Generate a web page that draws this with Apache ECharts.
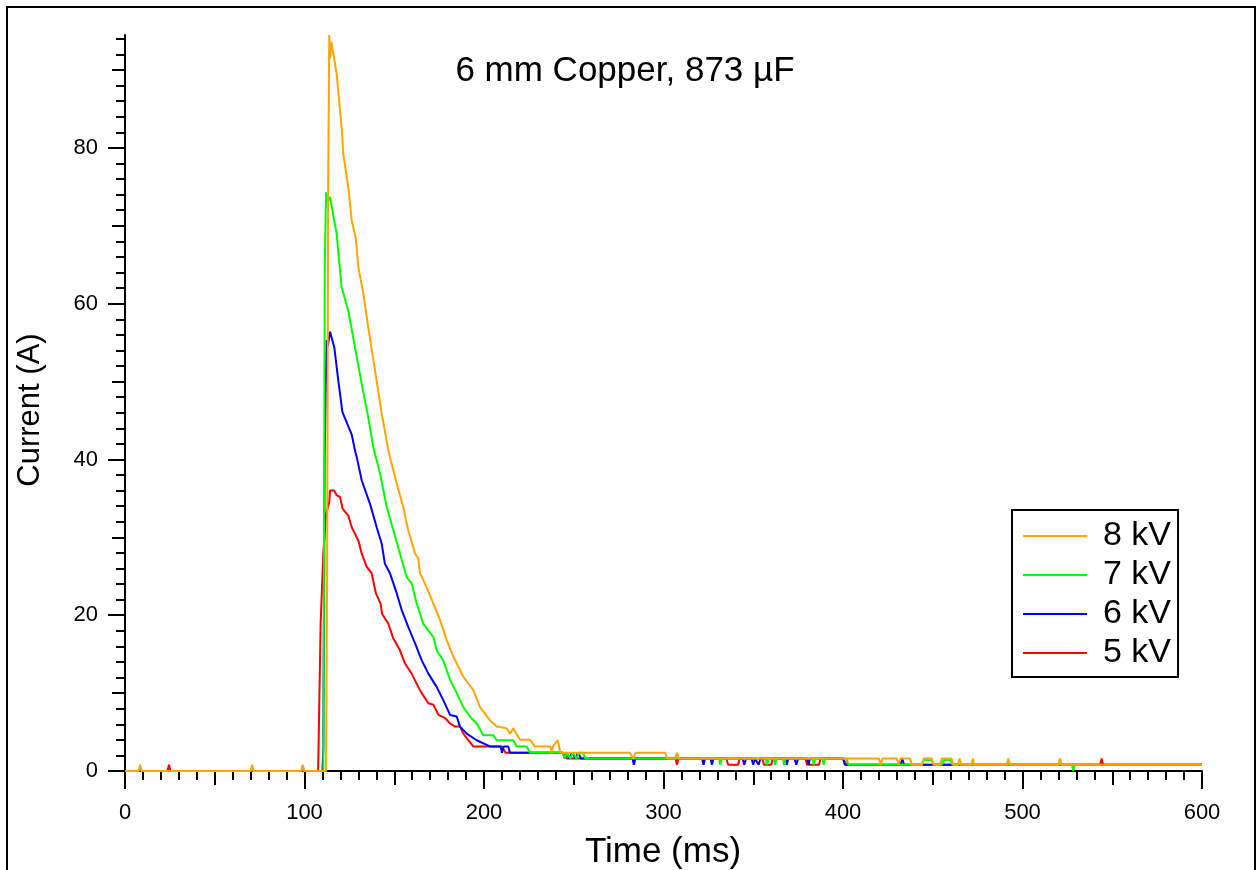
<!DOCTYPE html>
<html>
<head>
<meta charset="utf-8">
<title>6 mm Copper, 873 µF</title>
<script src="https://cdn.jsdelivr.net/npm/echarts@6.0.0/dist/echarts.min.js"></script>
<style>
    html, body { margin: 0; padding: 0; background: #fff; }
    #chart { width: 1257px; height: 870px; }
</style>
</head>
<body>
<div id="chart"></div>
<script>
    // series: [time (ms), current (A)]
    var kv8 = [[0,0],[7.5,0],[8.4,0.8],[9.3,0],[70,0],[70.8,0.8],[71.6,0],[98.2,0],[99,0.8],[99.8,0],
        [112,0],[112.6,25],[113.2,76],[113.8,94.5],[114.3,91.5],[115,93.6],[117.9,89.5],[120.7,82.6],[121.6,79.2],
        [124.4,75],[126.3,70.7],[128.5,68.5],[130,64.7],[132.8,61.3],[135.5,57],[139.3,51.4],[143,45.9],
        [146.7,41.2],[147.6,40.3],[151.4,36.9],[155,33.9],[157.8,30.9],[161.6,27.9],[163.4,27.3],[164.3,25.4],
        [168,23.6],[171.8,21.5],[175.5,19.4],[179.2,16.8],[182.9,14.7],[186.6,13],[188.5,12.1],[194,10.4],
        [197.8,8.2],[203.3,6.5],[207.1,5.7],[212.6,5.5],[214.5,4.8],[216.3,5.5],[218,4.8],[220,4],[225.6,4],
        [228.4,3.15],[237,3.15],[237.7,2.35],[238.5,3.15],[241.1,3.95],[242.5,2.35],[281.3,2.35],[283,1.6],
        [284.5,2.35],[301,2.35],[302,1.6],[306.5,1.6],[307.5,2.35],[308.5,1.6],[420,1.6],[421,0.8],[422,1.6],
        [430,1.6],[431,0.8],[432,1.6],[437.4,1.6],[438.3,0.8],[443.9,0.8],[445,1.6],[449.5,1.6],[450.5,0.8],
        [454,0.8],[455,1.6],[460.5,1.6],[461.5,0.8],[464,0.8],[465,1.6],[466,0.8],[471.5,0.8],[472.3,1.6],
        [473.2,0.8],[491.2,0.8],[492.1,1.6],[493,0.8],[520,0.8],[520.9,1.6],[521.8,0.8],[600,0.8]];

    var kv7 = [[0,0],[7.5,0],[8.4,0.6],[9.3,0],[70,0],[70.8,0.6],[71.6,0],[98.2,0],[99,0.6],[99.8,0],
        [110.5,0],[111.3,65],[112,74.3],[113,73],[114.2,73.7],[117.9,69],[120.7,62.1],[124.4,59.1],[128.1,54.4],
        [131.9,49.7],[135.5,45.4],[138.3,41.6],[140.2,39.9],[142.1,38.2],[145.8,33.9],[149.5,30.9],[153.2,27.9],
        [156.9,24.9],[159.7,24.1],[162.5,21.5],[166.2,18.9],[171.8,17.2],[173.6,15.5],[177.3,14.2],[181.1,11.7],
        [184.8,10],[188.5,8.2],[192.2,7],[195.9,6.1],[199.6,4.6],[205.2,4.6],[207.1,3.95],[216.3,3.95],
        [218.2,3.15],[223.8,3.15],[225.6,2.35],[244,2.35],[245,1.6],[246,2.35],[248,1.6],[249.5,2.35],
        [251.5,1.6],[253,2.35],[255,2.35],[256.5,1.6],[331,1.6],[331.6,0.8],[332.5,1.6],[357,1.6],[357.6,0.8],
        [358.5,1.6],[361.5,1.6],[362.2,0.8],[363,1.6],[366.5,1.6],[367.2,0.8],[368,1.6],[383,1.6],[383.7,0.8],
        [384.5,1.6],[388.5,1.6],[389.2,0.8],[390,1.6],[402,1.6],[403,0.8],[444,0.8],[445,1.4],[449.5,1.4],
        [450.5,0.8],[455,0.8],[456,1.4],[460,1.4],[461,0.8],[527.5,0.8],[528.3,0],[529.1,0.8],[600,0.8]];

    var kv6 = [[0,0],[110,0],[110.5,3],[111.2,40],[112.3,55.3],[113,54.6],[114.2,56.4],[116.6,54.4],
        [118.8,50.2],[121.1,46.1],[126.3,43.2],[128.1,41.2],[129.1,40.3],[131.9,37.3],[136.5,34.3],[140.2,31.3],
        [143,29.2],[144.8,26.6],[147.6,25.4],[151.4,22.8],[154.1,20.7],[157.8,18.5],[161.6,16.4],[165.3,14.2],
        [169,12.5],[173.6,10.8],[177.3,9.1],[181.1,7.2],[184.8,7],[186.6,5.7],[190.4,4.8],[195.9,3.95],
        [203.3,3.15],[209.3,3.15],[210,2.35],[211,3.15],[213.5,3.15],[214.5,2.35],[244,2.35],[245,1.6],
        [246,2.35],[247.5,1.6],[249,2.35],[251,1.6],[252.5,2.35],[254,1.6],[282.7,1.6],[283.5,0.8],[284.3,1.6],
        [321.5,1.6],[322.3,0.8],[323.1,1.6],[326.2,1.6],[327,0.8],[327.8,1.6],[344,1.6],[345,0.8],[346,1.6],
        [349,1.6],[350,0.8],[351,1.6],[352,1.6],[353,0.8],[354,1.6],[368,1.6],[368.7,0.8],[369.5,1.6],
        [373,1.6],[374,0.8],[375,1.6],[380,1.6],[380.8,0.8],[381.6,1.6],[400,1.6],[401,0.8],[432,0.8],
        [433,1.6],[434,0.8],[600,0.8]];

    var kv5 = [[0,0],[23.7,0],[24.5,0.8],[25.3,0],[107.6,0],[109,19],[110.5,28],[112,33],[113.8,34.5],
        [114.2,36],[116.6,36],[117.9,35.4],[119.8,35.2],[121.2,33.7],[124.4,32.8],[126.3,31.3],[130,29.6],
        [131.9,27.9],[134.7,26.2],[137.4,25.4],[139.8,22.8],[142.4,21.5],[143.2,20.2],[146.7,18.9],[149.5,17],
        [153.2,15.5],[156,13.8],[159.7,12.5],[163.4,10.8],[165.3,10],[169,8.7],[171.8,8.5],[174.6,7.2],
        [178.3,6.8],[181.1,6.1],[183.8,5.7],[186.6,5.7],[188.5,4.8],[191.3,3.95],[194,3.15],[210,3.15],
        [212,2.35],[244,2.35],[246,1.6],[306.7,1.6],[307.5,0.8],[308.3,1.6],[335,1.6],[336,0.8],[341.6,0.8],
        [342.5,1.6],[355,1.6],[356,0.8],[360,0.8],[361,1.6],[379,1.6],[380,0.8],[386.6,0.8],[387.5,1.6],
        [400,1.6],[402,0.8],[543.3,0.8],[544.1,1.6],[544.9,0.8],[600,0.8]];

    var legendNames = ['8 kV', '7 kV', '6 kV', '5 kV'];

    // tick positions
    var xLabelTicks = [0, 100, 200, 300, 400, 500, 600];
    var xMidTicks = [50, 150, 250, 350, 450, 550];
    var yLabelTicks = [0, 20, 40, 60, 80];
    var yMidTicks = [10, 30, 50, 70, 90];
    var xMinorTicks = [];
    for (var i = 10; i < 600; i += 10) {
        if (i % 50 !== 0) xMinorTicks.push(i);
    }
    var yMinorTicks = [];
    for (var j = 2; j <= 94; j += 2) {
        if (j % 10 !== 0) yMinorTicks.push(j);
    }

    var font = 'Arial, "Liberation Sans", sans-serif';

    function xAxisOf(ticks, len, withLabel) {
        return {
            type: 'value', min: 0, max: 600, position: 'bottom', offset: 2,
            axisLine: { show: withLabel, lineStyle: { color: '#000', width: 2 } },
            axisTick: { customValues: ticks, length: len, lineStyle: { color: '#000', width: 2 } },
            axisLabel: withLabel ? { customValues: ticks, color: '#000', fontSize: 22, fontFamily: font, margin: 29 } : { show: false },
            splitLine: { show: false }
        };
    }
    function yAxisOf(ticks, len, withLabel) {
        return {
            type: 'value', min: 0, max: 94.5, position: 'left', offset: 2,
            axisLine: { show: withLabel, lineStyle: { color: '#000', width: 2 } },
            axisTick: { customValues: ticks, length: len, lineStyle: { color: '#000', width: 2 } },
            axisLabel: withLabel ? { customValues: ticks, color: '#000', fontSize: 22, fontFamily: font, margin: 25 } : { show: false },
            splitLine: { show: false }
        };
    }

    var option = {
        animation: false,
        backgroundColor: '#fff',
        title: {
            text: '6 mm Copper, 873 µF',
            left: 625, textAlign: 'center', top: 54, padding: 0,
            textStyle: { color: '#000', fontSize: 35, fontWeight: 'normal', fontFamily: font }
        },
        legend: {
            data: legendNames,
            orient: 'vertical',
            left: 1012, top: 510,
            padding: [9, 7, 7, 11],
            itemGap: 5,
            itemWidth: 64, itemHeight: 2,
            icon: 'rect',
            borderColor: '#000', borderWidth: 2,
            textStyle: { color: '#000', fontSize: 34, fontFamily: font, lineHeight: 32, padding: [0, 0, 0, 11] }
        },
        grid: { left: 125, right: 55, top: 35, bottom: 99 },
        xAxis: [
            xAxisOf(xLabelTicks, 18, true),
            xAxisOf(xMidTicks, 14, false),
            xAxisOf(xMinorTicks, 9, false)
        ],
        yAxis: [
            yAxisOf(yLabelTicks, 17, true),
            yAxisOf(yMidTicks, 13, false),
            yAxisOf(yMinorTicks, 9, false)
        ],
        graphic: [
            { type: 'rect', shape: { x: 7, y: 7, width: 1248, height: 900 },
              style: { fill: 'none', stroke: '#000', lineWidth: 2 }, silent: true },
            { type: 'text', x: 30, y: 410, rotation: Math.PI / 2,
              style: { text: 'Current (A)', font: '31px ' + font, fill: '#000', align: 'center', verticalAlign: 'middle' } },
            { type: 'text', x: 663, y: 852,
              style: { text: 'Time (ms)', font: '35px ' + font, fill: '#000', align: 'center', verticalAlign: 'middle' } }
        ],
        series: [
            { name: '5 kV', type: 'line', data: kv5, showSymbol: false, color: '#FF0000', lineStyle: { width: 2 } },
            { name: '6 kV', type: 'line', data: kv6, showSymbol: false, color: '#0000FF', lineStyle: { width: 2 } },
            { name: '7 kV', type: 'line', data: kv7, showSymbol: false, color: '#00FF00', lineStyle: { width: 2 } },
            { name: '8 kV', type: 'line', data: kv8, showSymbol: false, color: '#FFA500', lineStyle: { width: 2 } }
        ]
    };

    var myChart = echarts.init(document.getElementById('chart'));
    myChart.setOption(option);
</script>
</body>
</html>
